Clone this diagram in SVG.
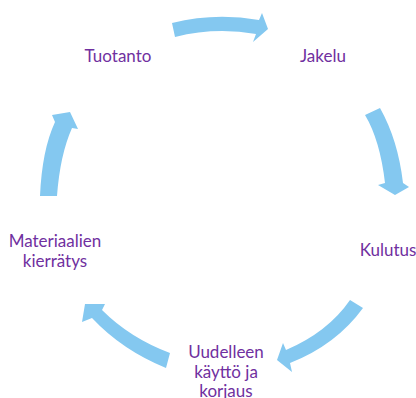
<svg xmlns="http://www.w3.org/2000/svg" width="416" height="398" viewBox="0 0 416 398">
<style>
.arrow{fill:#84C8F0;stroke:none}
.lbl{font-family:Lato,"Liberation Sans",sans-serif;font-size:17px;fill:#7030A0;text-anchor:middle}
</style>
<rect width="416" height="398" fill="#fff"/>
<g id="connectors">
<path class="arrow" d="M172,23 Q215,12 259,20 L262,13 L268,29 L253,42 L256,34 Q215,27 175,37 Z"/>
<path class="arrow" d="M380,108 Q398,140 403,183 L409,187 L395,195 L378,185 L385,183 Q380,140 365,115 Z"/>
<path class="arrow" d="M350,300 Q328,332 286,350 L283,343 L277,360 L292,372 L290,363 Q336,345 363,308 Z"/>
<path class="arrow" d="M170,353 Q130,338 102,310 L105,304 L85,304 L82,322 L92,318 Q122,350 166,368 Z"/>
<path class="arrow" d="M40,196 Q42,150 55,122 L52,115 L70,112 L78,129 L72,128 Q60,155 57,196 Z"/>
</g>
<g id="tuotanto"><text class="lbl" x="118" y="62">Tuotanto</text></g>
<g id="jakelu"><text class="lbl" x="323" y="62">Jakelu</text></g>
<g id="kulutus"><text class="lbl" x="388" y="256">Kulutus</text></g>
<g id="uudelleen"><text class="lbl" x="226" y="358">Uudelleen</text><text class="lbl" x="226" y="378">käyttö ja</text><text class="lbl" x="226" y="397">korjaus</text></g>
<g id="materiaalien"><text class="lbl" x="55" y="247">Materiaalien</text><text class="lbl" x="55" y="267">kierrätys</text></g>
</svg>
